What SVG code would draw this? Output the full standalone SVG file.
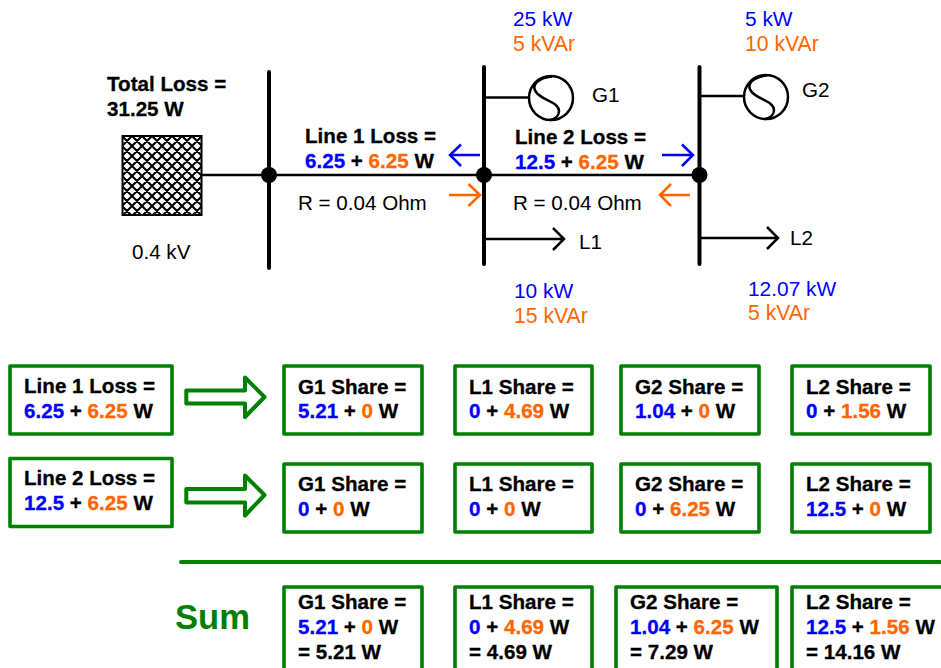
<svg xmlns="http://www.w3.org/2000/svg" width="941" height="668" viewBox="0 0 941 668">
<style>
text{font-family:"Liberation Sans",Arial,sans-serif;font-size:20.6px;fill:#000}
.b{font-weight:bold;stroke:#000;stroke-width:.3px}
.bl{fill:#0000ff;stroke:#0000ff}
.or{fill:#ff6600;stroke:#ff6600}
text.p{fill:#0000ff;font-size:20.900px}
text.q{fill:#ff6600;font-size:21.200px}
.box{fill:#fff;stroke:#008000;stroke-width:3.600;stroke-linejoin:round}
.bus{stroke:#000;stroke-width:4;stroke-linecap:round;fill:none}
.ln{stroke:#000;stroke-width:2.500;fill:none}
.ar{stroke-width:2.500;fill:none}
.big{fill:#fff;stroke:#008000;stroke-width:4;stroke-linejoin:round}
.s{fill:none;stroke:#000;stroke-width:2.500}
</style>
<defs>
<pattern id="h" width="10" height="10" patternUnits="userSpaceOnUse" x="122" y="136">
<rect width="10" height="10" fill="#fff"/>
<path d="M-1 1L1 -1M-1 11L11 -1M9 11L11 9M-1 9L1 11M-1 -1L11 11M9 -1L11 1" stroke="#000" stroke-width="2.100"/>
</pattern>
</defs>
<g id="connectors">
<path class="ln" d="M201 175H699M484 97.500H529M699 96H744M484 239H562M553 228L564 239L553 250M699 238H777M767 227L778 238L767 249"/>
<path class="bus" d="M269 72V268M484 67V264M699.500 67V264"/>
<path class="ar" stroke="#0000ff" d="M480 155H451M461 144.500L450 155L461 166M662 155H692M682 144.500L693 155L682 166"/>
<path class="ar" stroke="#ff6600" d="M449 195H479M468.500 184L480 195L468.500 206M690 195H661M671 184L660 195L671 206"/>
</g>
<g id="source"><rect x="122.500" y="136" width="79" height="79" fill="url(#h)" stroke="#000" stroke-width="2"/><circle cx="269" cy="175" r="8"/></g>
<g id="bus2"><circle cx="484" cy="175" r="8"/></g>
<g id="bus3"><circle cx="699.500" cy="175" r="8"/></g>
<g id="g1"><circle cx="551" cy="98" r="22" fill="#fff" stroke="#000" stroke-width="2.500"/><path class="s" d="M552 76.500C538 78 531 85 536 92C541 100 559 102 559 111C559 115 556 119 550 120"/><text x="592" y="102">G1</text></g>
<g id="g2"><circle cx="766" cy="97" r="22" fill="#fff" stroke="#000" stroke-width="2.500"/><path class="s" d="M767 75.500C753 77 746 84 751 91C756 99 774 101 774 110C774 114 771 118 765 119"/><text x="802" y="97">G2</text></g>
<g id="labels">
<text class="b" x="107" y="91">Total Loss =</text><text class="b" x="107" y="116">31.25 W</text>
<text x="132" y="259">0.4 kV</text>
<text class="b" x="305" y="143">Line 1 Loss =</text><text class="b" x="305" y="168"><tspan class="bl">6.25</tspan> + <tspan class="or">6.25</tspan> W</text>
<text x="298" y="210">R = 0.04 Ohm</text>
<text class="b" x="515" y="144">Line 2 Loss =</text><text class="b" x="515" y="169"><tspan class="bl">12.5</tspan> + <tspan class="or">6.25</tspan> W</text>
<text x="513" y="210">R = 0.04 Ohm</text>
<text class="p" x="513" y="26">25 kW</text><text class="q" x="513" y="51">5 kVAr</text>
<text class="p" x="745" y="26">5 kW</text><text class="q" x="745" y="51">10 kVAr</text>
<text class="p" x="514" y="298">10 kW</text><text class="q" x="514" y="323">15 kVAr</text>
<text class="p" x="748" y="296">12.07 kW</text><text class="q" x="748" y="320">5 kVAr</text>
<text x="579" y="249">L1</text><text x="790" y="245">L2</text>
</g>
<g id="r1-line"><rect class="box" x="10" y="366" width="162" height="68"/><text class="b" x="24" y="393">Line 1 Loss =</text><text class="b" x="24" y="418"><tspan class="bl">6.25</tspan> + <tspan class="or">6.25</tspan> W</text></g>
<g id="r2-line"><rect class="box" x="10" y="458.500" width="162" height="68"/><text class="b" x="24" y="485">Line 2 Loss =</text><text class="b" x="24" y="510"><tspan class="bl">12.5</tspan> + <tspan class="or">6.25</tspan> W</text></g>
<g id="arrows"><path id="a1" class="big" d="M186.300 390.500H245V377.500L264.500 397L245 417V403.500H186.300Z"/><path id="a2" class="big" d="M186.300 489H245V475.500L264.500 495L245 515.500V502.500H186.300Z"/></g>
<g id="r1-g1"><rect class="box" x="284" y="366" width="138" height="68"/><text class="b" x="298" y="394">G1 Share =</text><text class="b" x="298" y="418"><tspan class="bl">5.21</tspan> + <tspan class="or">0</tspan> W</text></g>
<g id="r1-l1"><rect class="box" x="455" y="366" width="137" height="68"/><text class="b" x="469" y="394">L1 Share =</text><text class="b" x="469" y="418"><tspan class="bl">0</tspan> + <tspan class="or">4.69</tspan> W</text></g>
<g id="r1-g2"><rect class="box" x="621" y="366" width="138" height="68"/><text class="b" x="635" y="394">G2 Share =</text><text class="b" x="635" y="418"><tspan class="bl">1.04</tspan> + <tspan class="or">0</tspan> W</text></g>
<g id="r1-l2"><rect class="box" x="792" y="366" width="138" height="68"/><text class="b" x="806" y="394">L2 Share =</text><text class="b" x="806" y="418"><tspan class="bl">0</tspan> + <tspan class="or">1.56</tspan> W</text></g>
<g id="r2-g1"><rect class="box" x="284" y="464" width="138" height="68"/><text class="b" x="298" y="491">G1 Share =</text><text class="b" x="298" y="516"><tspan class="bl">0</tspan> + <tspan class="or">0</tspan> W</text></g>
<g id="r2-l1"><rect class="box" x="455" y="464" width="137" height="68"/><text class="b" x="469" y="491">L1 Share =</text><text class="b" x="469" y="516"><tspan class="bl">0</tspan> + <tspan class="or">0</tspan> W</text></g>
<g id="r2-g2"><rect class="box" x="621" y="464" width="138" height="68"/><text class="b" x="635" y="491">G2 Share =</text><text class="b" x="635" y="516"><tspan class="bl">0</tspan> + <tspan class="or">6.25</tspan> W</text></g>
<g id="r2-l2"><rect class="box" x="792" y="464" width="138" height="68"/><text class="b" x="806" y="491">L2 Share =</text><text class="b" x="806" y="516"><tspan class="bl">12.5</tspan> + <tspan class="or">0</tspan> W</text></g>
<path id="rule" d="M181 562H940" stroke="#008000" stroke-width="4" stroke-linecap="round"/>
<text x="175" y="629" style="font-size:34.600px;font-weight:bold;fill:#008000">Sum</text>
<g id="r3-g1"><rect class="box" x="284" y="587" width="138" height="100"/><text class="b" x="298" y="609">G1 Share =</text><text class="b" x="298" y="634"><tspan class="bl">5.21</tspan> + <tspan class="or">0</tspan> W</text><text class="b" x="298" y="659">= 5.21 W</text></g>
<g id="r3-l1"><rect class="box" x="455" y="587" width="137" height="100"/><text class="b" x="469" y="609">L1 Share =</text><text class="b" x="469" y="634"><tspan class="bl">0</tspan> + <tspan class="or">4.69</tspan> W</text><text class="b" x="469" y="659">= 4.69 W</text></g>
<g id="r3-g2"><rect class="box" x="616" y="587" width="161" height="100"/><text class="b" x="630" y="609">G2 Share =</text><text class="b" x="630" y="634"><tspan class="bl">1.04</tspan> + <tspan class="or">6.25</tspan> W</text><text class="b" x="630" y="659">= 7.29 W</text></g>
<g id="r3-l2"><rect class="box" x="792" y="587" width="170" height="100"/><text class="b" x="806" y="609">L2 Share =</text><text class="b" x="806" y="634"><tspan class="bl">12.5</tspan> + <tspan class="or">1.56</tspan> W</text><text class="b" x="806" y="659">= 14.16 W</text></g>
</svg>
